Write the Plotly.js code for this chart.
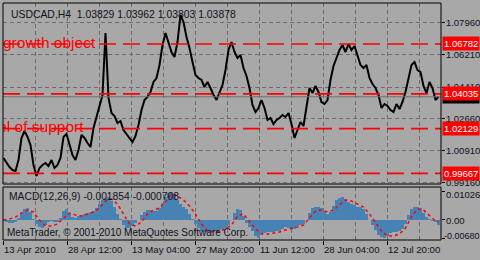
<!DOCTYPE html>
<html><head><meta charset="utf-8">
<script src="https://cdn.plot.ly/plotly-3.0.1.min.js"></script>
<style>html,body{margin:0;padding:0;background:#a8a8a8;}#chart{width:480px;height:260px;}</style>
</head><body><div id="chart"></div>
<script>
// ---- data (USDCAD H4, sampled every 3 bars) ----
const symbolTitle = "USDCAD,H4\u00a0\u00a01.03829 1.03962 1.03803 1.03878";
const priceClose = [1.00514, 1.00239, 1.00019, 0.99854, 0.99800, 1.00404, 1.01613, 1.01998, 1.01668, 1.01228,
 1.00129, 0.99525, 0.99964, 1.00129, 1.00239, 1.00074, 1.00404, 0.99964, 1.00129, 1.00514,
 1.01668, 1.01833, 1.01228, 1.00679, 1.00404, 1.00953, 1.01778, 1.01613, 1.01338, 1.01118,
 1.02162, 1.02767, 1.03426, 1.03976, 1.07383, 1.03811, 1.02987, 1.02822, 1.02437, 1.02547,
 1.02052, 1.01833, 1.01613, 1.01393, 1.01723, 1.02327, 1.03151, 1.03701, 1.03866, 1.04141,
 1.04690, 1.04910, 1.05624, 1.06723, 1.07383, 1.06888, 1.06339, 1.06064, 1.06888, 1.08372,
 1.07987, 1.07163, 1.06558, 1.05789, 1.05075, 1.04910, 1.04800, 1.04415, 1.04690, 1.04360,
 1.03976, 1.03701, 1.04141, 1.04525, 1.05349, 1.06448, 1.06888, 1.06339, 1.06009, 1.06174,
 1.05459, 1.05020, 1.04360, 1.03426, 1.03042, 1.03261, 1.03701, 1.03261, 1.02602, 1.02712,
 1.02382, 1.02602, 1.02712, 1.02877, 1.02767, 1.02987, 1.02382, 1.01613, 1.02052, 1.02492,
 1.02272, 1.03261, 1.04360, 1.04086, 1.04470, 1.04141, 1.03591, 1.03481, 1.03701, 1.04800,
 1.05569, 1.06009, 1.06448, 1.06723, 1.06339, 1.06778, 1.06448, 1.06668, 1.06174, 1.05624,
 1.05459, 1.05624, 1.04910, 1.04580, 1.04360, 1.03976, 1.03261, 1.03481, 1.03371, 1.03151,
 1.03042, 1.03481, 1.03206, 1.03591, 1.04141, 1.04910, 1.05624, 1.05789, 1.05349, 1.05240,
 1.04470, 1.04086, 1.04690, 1.04360, 1.03701, 1.03878];
const macdMain = [-0.00055, -0.00092, -0.00128, -0.00128, -0.00092, 0.00055, 0.00239, 0.00385, 0.00422, 0.00275,
 0.00018, -0.00165, -0.00275, -0.00312, -0.00202, -0.00092, -0.00055, -0.00092, -0.00092, 0.00055,
 0.00312, 0.00385, 0.00239, 0.00092, 0.00055, 0.00128, 0.00165, 0.00202, 0.00239, 0.00275,
 0.00312, 0.00422, 0.00569, 0.00716, 0.00789, 0.00826, 0.00679, 0.00459, 0.00202, 0.00018,
 -0.00202, -0.00312, -0.00312, -0.00239, -0.00128, -0.00018, 0.00165, 0.00275, 0.00349, 0.00349,
 0.00312, 0.00312, 0.00422, 0.00606, 0.00826, 0.00973, 0.01026, 0.00936, 0.00716, 0.00569,
 0.00459, 0.00385, 0.00202, 0.00018, -0.00165, -0.00312, -0.00422, -0.00459, -0.00495, -0.00459,
 -0.00459, -0.00422, -0.00385, -0.00349, -0.00312, -0.00202, -0.00018, 0.00239, 0.00385, 0.00349,
 0.00128, -0.00128, -0.00275, -0.00422, -0.00606, -0.00680, -0.00532, -0.00495, -0.00459, -0.00459,
 -0.00459, -0.00422, -0.00422, -0.00349, -0.00275, -0.00312, -0.00385, -0.00349, -0.00239, -0.00202,
 -0.00165, -0.00018, 0.00239, 0.00422, 0.00459, 0.00459, 0.00422, 0.00275, 0.00202, 0.00275,
 0.00495, 0.00716, 0.00789, 0.00826, 0.00752, 0.00642, 0.00569, 0.00532, 0.00459, 0.00459,
 0.00385, 0.00202, -0.00018, -0.00202, -0.00385, -0.00569, -0.00642, -0.00680, -0.00606, -0.00495,
 -0.00459, -0.00459, -0.00422, -0.00349, -0.00165, 0.00165, 0.00385, 0.00459, 0.00459, 0.00422,
 0.00239, 0.00092, 0.00018, -0.00055, -0.00092, -0.001854];
const macdSignal = [-0.00018, 0.00018, 0.00092, 0.00239, 0.00349, 0.00275, -0.00018, -0.00239, -0.00239, -0.00165,
 0.00055, 0.00239, 0.00165, 0.00128, 0.00202, 0.00275, 0.00422, 0.00679, 0.00752, 0.00569,
 0.00202, -0.00165, -0.00239, -0.00092, 0.00202, 0.00349, 0.00422, 0.00642, 0.00936, 0.00862,
 0.00716, 0.00495, 0.00202, -0.00165, -0.00422, -0.00459, -0.00422, -0.00349, -0.00202, 0.00128,
 0.00202, -0.00092, -0.00349, -0.00532, -0.00532, -0.00495, -0.00459, -0.00385, -0.00312, -0.00275,
 -0.00202, 0.00055, 0.00312, 0.00349, 0.00275, 0.00349, 0.00532, 0.00716, 0.00679, 0.00569,
 0.00459, 0.00202, -0.00128, -0.00422, -0.00606, -0.00606, -0.00532, -0.00312, 0.00092, 0.00385,
 0.00349, 0.00128, -0.00055, -0.000708];
const timeLabels = ["13 Apr 2010", "28 Apr 12:00", "13 May 04:00", "27 May 20:00", "11 Jun 12:00", "28 Jun 04:00", "12 Jul 20:00"];
const priceTicks = [1.07960, 1.06210, 1.04410, 1.02660, 1.00910, 0.99160];
const priceTickText = ["1.07960", "1.06210", "1.04410", "1.02660", "1.00910", "0.99160"];
const macdTicks = [0.01026, 0, -0.00680];
const macdTickText = ["0.01026", "0.00", "-0.00680"];
const levelPrices = [1.06782, 1.04035, 1.02129, 0.99667];
const levelText = ["1.06782", "1.04035", "1.02129", "0.99667"];
const bidPrice = 1.03878;
const macdLabel = "MACD(12,26,9) -0.001854 -0.000708";
const copyright = "MetaTrader, \u00a9 2001-2010 MetaQuotes Software Corp.";

// bar numbers (time index)
const priceBar = priceClose.map((_, i) => i * 3);
const macdBar = macdMain.map((_, i) => i * 3);
const sigBar = macdSignal.map((_, i) => Math.min(i * 6, 435));
const labelBar = timeLabels.map((_, i) => i * 64);
const gridBar = timeLabels.map((_, i) => i * 64 + 32);

const FONT = "Liberation Sans, Arial, sans-serif";
const BG = "#a8a8a8";
const GRID = "#6c6c6c";
const TXT = "#101020";

const traces = [
  {x: priceBar, y: priceClose, type: "scatter", mode: "lines", line: {color: "#000", width: 2}, xaxis: "x", yaxis: "y", hoverinfo: "skip"},
  {x: [-0.5], y: [levelPrices[0]], type: "scatter", mode: "text", text: ["growth object"], textposition: "middle right",
   textfont: {family: FONT, size: 15.5, color: "#ff0000"}, xaxis: "x", yaxis: "y", cliponaxis: true},
  {x: [80], y: [levelPrices[2]], type: "scatter", mode: "text", text: ["level of support"], textposition: "middle left",
   textfont: {family: FONT, size: 15.5, color: "#ff0000"}, xaxis: "x", yaxis: "y", cliponaxis: true},
  {x: macdBar, y: macdMain, type: "bar", marker: {color: "#4682b4", line: {width: 0}}, xaxis: "x", yaxis: "y2", width: 3},
  {x: sigBar, y: macdSignal, type: "scatter", mode: "lines", line: {color: "#ff0000", width: 1.5, dash: "3px,3px"}, xaxis: "x", yaxis: "y2"}
];

const dom1 = [(240 - 184) / 237, 1];
const dom2 = [0, (240 - 187) / 237];

const shapes = [];
levelPrices.forEach(p => shapes.push({type: "line", xref: "paper", x0: 0, x1: 1, yref: "y", y0: p, y1: p,
  line: {color: "#ff0000", width: 1.6, dash: "17px,7px"}}));
shapes.push({type: "line", xref: "paper", x0: 0, x1: 1, yref: "y", y0: bidPrice, y1: bidPrice, line: {color: "#707070", width: 1}});
shapes.push({type: "rect", xref: "paper", yref: "paper", x0: 0, x1: 1, y0: dom1[0], y1: dom1[1], line: {color: "#000", width: 1}});
shapes.push({type: "rect", xref: "paper", yref: "paper", x0: 0, x1: 1, y0: dom2[0], y1: dom2[1], line: {color: "#000", width: 1}});

const annotations = [
  {xref: "paper", yref: "paper", x: 0, y: 1, xanchor: "left", yanchor: "top", xshift: 6, yshift: -4, showarrow: false,
   text: symbolTitle, font: {family: FONT, size: 10.4, color: TXT}},
  {xref: "paper", yref: "paper", x: 0, y: (240 - 196) / 237, xanchor: "left", yanchor: "middle", xshift: 4, showarrow: false,
   text: macdLabel, font: {family: FONT, size: 10.3, color: TXT}},
  {xref: "paper", yref: "paper", x: 0, y: (240 - 232) / 237, xanchor: "left", yanchor: "middle", xshift: 2, showarrow: false,
   text: copyright, font: {family: FONT, size: 10, color: TXT}},
  {xref: "paper", yref: "y", x: 1, y: bidPrice, xanchor: "left", yanchor: "middle", xshift: 1, showarrow: false,
   text: "1.03878", bgcolor: "#000", borderpad: 1, font: {family: FONT, size: 9.5, color: "#fff"}}
];
levelPrices.forEach((p, i) => annotations.push({xref: "paper", yref: "y", x: 1, y: p, xanchor: "left", yanchor: "middle", xshift: 1,
  showarrow: false, text: levelText[i], bgcolor: "#ff0000", borderpad: 1, font: {family: FONT, size: 9.5, color: "#fff"}}));
// MACD window scale labels (MetaTrader draws them inside the window edges)
const macdLabelPx = [194, 220, 236];
const macdLabelShift = [3, 3, 1];
const macdLabelSize = [9.5, 9.5, 9];
macdTickText.forEach((t, i) => annotations.push({xref: "paper", yref: "paper", x: 1, y: (240 - macdLabelPx[i]) / 237,
  xanchor: "left", yanchor: "middle", xshift: macdLabelShift[i], showarrow: false, text: t,
  font: {family: FONT, size: macdLabelSize[i], color: TXT}}));

const layout = {
  width: 480, height: 260,
  margin: {l: 3, r: 39, t: 3, b: 20, pad: 0},
  paper_bgcolor: BG, plot_bgcolor: BG,
  showlegend: false, bargap: 0, hovermode: false,
  font: {family: FONT, size: 10, color: TXT},
  xaxis: {range: [-0.5, 437.5], anchor: "y2", tickmode: "array", tickvals: labelBar, ticktext: timeLabels,
    tickangle: 0, automargin: false,
    ticks: "outside", ticklen: 4, tickcolor: "#000", ticklabelposition: "outside right",
    showgrid: true, gridcolor: GRID, griddash: "4px,3px", gridwidth: 1, zeroline: false, showline: false,
    minor: {tickmode: "array", tickvals: gridBar, showgrid: true, gridcolor: GRID, griddash: "4px,3px", ticks: ""},
    tickfont: {family: FONT, size: 9.6, color: TXT}},
  yaxis: {domain: dom1, range: [0.99085, 1.09031], side: "right", tickmode: "array", tickvals: priceTicks, ticktext: priceTickText,
    automargin: false, ticks: "outside", ticklen: 3, tickcolor: "#000", ticklabelstandoff: -1,
    showgrid: true, gridcolor: GRID, griddash: "4px,3px", zeroline: false,
    tickfont: {family: FONT, size: 9.5, color: TXT}},
  yaxis2: {domain: dom2, range: [-0.00752, 0.01193], side: "right", anchor: "x", tickmode: "array", tickvals: macdTicks,
    showticklabels: false, automargin: false, ticks: "outside", ticklen: 3, tickcolor: "#000", showgrid: false, zeroline: false},
  shapes: shapes,
  annotations: annotations
};

Plotly.newPlot("chart", traces, layout, {staticPlot: true, displayModeBar: false});
</script></body></html>
